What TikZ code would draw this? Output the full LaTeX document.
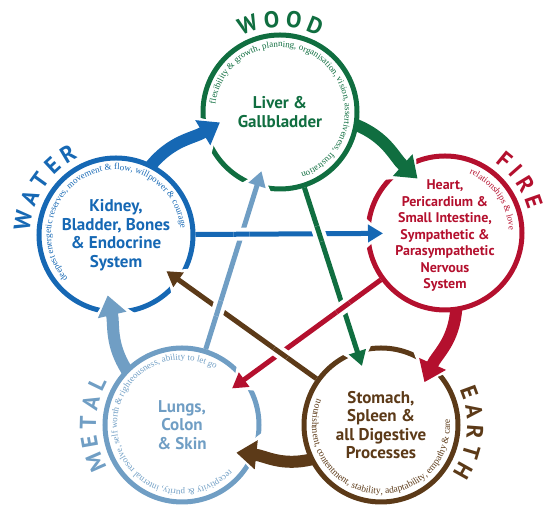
\documentclass[tikz,border=0pt]{standalone}
\usepackage{fontspec}
\setmainfont{Liberation Serif}
\newfontfamily\organfont{PT Sans}
\newfontfamily\arcfont{Liberation Serif}
\usetikzlibrary{arrows.meta,calc,decorations.text}
\definecolor{woodc}{RGB}{16,110,64}
\definecolor{firec}{RGB}{180,16,46}
\definecolor{earthc}{RGB}{92,58,24}
\definecolor{metalc}{RGB}{112,158,196}
\definecolor{waterc}{RGB}{22,104,180}
\tikzset{
  ring/.style={circle, draw=#1, line width=5pt, minimum size=154pt, inner sep=0pt},
  organ/.style={text=#1, font=\organfont\bfseries\fontsize{17}{18.5}\selectfont, align=center},
  gen/.style={draw=#1, line width=12pt, shorten <=-3pt, -{Triangle[length=20pt,width=28pt]}},
  genhalo/.style={draw=white, line width=20pt, -{Triangle[length=30pt,width=56pt]}},
  ctl/.style={draw=#1, line width=5pt, -{Triangle[length=15pt,width=17pt]}},
  ctlhalo/.style={draw=white, line width=12pt, -{Triangle[length=22pt,width=38pt]}},
  over/.style={draw=white, line width=13pt},
  arctext/.style n args={3}{decorate, decoration={text along path, text align=center, text color=#1,
    text={|\arcfont\fontsize{#2}{10}\selectfont|#3}}},
  elem/.style 2 args={decorate, decoration={text along path, text align=center, text color=#1,
    text={|\organfont\bfseries\fontsize{23}{24}\selectfont|#2}}}
}
\begin{document}
\begin{tikzpicture}[x=1pt,y=1pt]
  \useasboundingbox (0,0) rectangle (550,518);
  \node[ring=woodc] (wood) at (280,406) {};
  \node[ring=firec] (fire) at (445,285) {};
  \node[ring=earthc] (earth) at (381,93) {};
  \node[ring=metalc] (metal) at (182,93) {};
  \node[ring=waterc] (water) at (116,283) {};

  \coordinate (woodgen) at ($(wood)!61pt!-27:(water)$);
  \coordinate (firegen) at ($(fire)!61pt!-27:(wood)$);
  \coordinate (earthgen) at ($(earth)!61pt!-27:(fire)$);
  \coordinate (metalgen) at ($(metal)!61pt!-27:(earth)$);
  \coordinate (watergen) at ($(water)!61pt!-27:(metal)$);
  \draw[genhalo] ($(woodgen)+(211:30)$) -- (woodgen);
  \draw[genhalo] ($(firegen)+(138:30)$) -- (firegen);
  \draw[genhalo] ($(earthgen)+(66:30)$) -- (earthgen);
  \draw[genhalo] ($(metalgen)+(354:30)$) -- (metalgen);
  \draw[genhalo] ($(watergen)+(283:30)$) -- (watergen);
  \draw[gen=waterc] (water.63) to[out=51,in=211] (woodgen);
  \draw[gen=woodc] (wood.-10) to[out=-22,in=138] (firegen);
  \draw[gen=firec] (fire.-82) to[out=-94,in=66] (earthgen);
  \draw[gen=earthc] (earth.206) to[out=194,in=354] (metalgen);
  \draw[gen=metalc] (metal.135) to[out=123,in=283] (watergen);

  \coordinate (firectl) at ($(fire)!62pt!(water)$);
  \coordinate (earthctl) at ($(earth)!62pt!(wood)$);
  \coordinate (metalctl) at ($(metal)!62pt!(fire)$);
  \coordinate (waterctl) at ($(water)!62pt!(earth)$);
  \coordinate (woodctl) at ($(wood)!62pt!(metal)$);
  \draw[ctlhalo] ($(firectl)!28pt!(water)$) -- (firectl);
  \draw[ctlhalo] ($(earthctl)!28pt!(wood)$) -- (earthctl);
  \draw[ctlhalo] ($(metalctl)!28pt!(fire)$) -- (metalctl);
  \draw[ctlhalo] ($(waterctl)!28pt!(earth)$) -- (waterctl);
  \draw[ctlhalo] ($(woodctl)!28pt!(metal)$) -- (woodctl);
  \draw[ctl=waterc] (water) -- (firectl);
  \draw[ctl=woodc] (wood) -- (earthctl);
  \draw[ctl=firec] (fire) -- (metalctl);
  \draw[ctl=earthc] (earth) -- (waterctl);
  \draw[ctl=metalc] (metal) -- (woodctl);

  \coordinate (x1) at (intersection of water.center--fire.center and wood.center--earth.center);
  \coordinate (x2) at (intersection of water.center--fire.center and metal.center--wood.center);
  \coordinate (x3) at (intersection of metal.center--wood.center and earth.center--water.center);
  \coordinate (x4) at (intersection of earth.center--water.center and fire.center--metal.center);
  \coordinate (x5) at (intersection of fire.center--metal.center and wood.center--earth.center);
  \draw[over] ($(x1)!8pt!(wood)$) -- ($(x1)!8pt!(earth)$);
  \draw[woodc, line width=5pt] ($(x1)!8pt!(wood)$) -- ($(x1)!8pt!(earth)$);
  \draw[over] ($(x2)!8pt!(water)$) -- ($(x2)!8pt!(fire)$);
  \draw[waterc, line width=5pt] ($(x2)!8pt!(water)$) -- ($(x2)!8pt!(fire)$);
  \draw[over] ($(x3)!8pt!(metal)$) -- ($(x3)!8pt!(wood)$);
  \draw[metalc, line width=5pt] ($(x3)!8pt!(metal)$) -- ($(x3)!8pt!(wood)$);
  \draw[over] ($(x4)!8pt!(earth)$) -- ($(x4)!8pt!(water)$);
  \draw[earthc, line width=5pt] ($(x4)!8pt!(earth)$) -- ($(x4)!8pt!(water)$);
  \draw[over] ($(x5)!8pt!(fire)$) -- ($(x5)!8pt!(metal)$);
  \draw[firec, line width=5pt] ($(x5)!8pt!(fire)$) -- ($(x5)!8pt!(metal)$);

  \node[organ=woodc] (woodtxt) at (wood) {Liver \&\\Gallbladder};
  \node[organ=firec, font=\organfont\bfseries\fontsize{14}{16.5}\selectfont] (firetxt) at ($(fire)+(0,-3)$)
    {Heart,\\Pericardium \&\\Small Intestine,\\Sympathetic \&\\Parasympathetic\\Nervous\\System};
  \node[organ=earthc] (earthtxt) at (earth) {Stomach,\\Spleen \&\\all Digestive\\Processes};
  \node[organ=metalc] (metaltxt) at (metal) {Lungs,\\Colon\\\& Skin};
  \node[organ=waterc] (watertxt) at (water) {Kidney,\\Bladder, Bones\\\& Endocrine\\System};

  \path[arctext={woodc}{9}{flexibility {\&} growth, planning, organisation, vision, assertiveness, frustration}]
    ($(wood)+(196:65)$) arc[start angle=196, end angle=-94, radius=65];
  \path[arctext={firec}{9}{relationships {\&} love}]
    ($(fire)+(90:64)$) arc[start angle=90, end angle=-20, radius=64];
  \path[arctext={waterc}{9}{deepest energetic reserves, movement {\&} flow, willpower {\&} courage}]
    ($(water)+(250:65)$) arc[start angle=250, end angle=-22, radius=65];
  \path[arctext={metalc}{9}{receptivity {\&} purity, internal resolve, self worth {\&} righteousness, ability to let go}]
    ($(metal)+(-16:65)$) arc[start angle=-16, end angle=-328, radius=65];
  \path[arctext={earthc}{9.5}{nourishment, contentment, stability, adaptability, empathy {\&} care}]
    ($(earth)+(123:69)$) arc[start angle=123, end angle=400, radius=69];

  \path[elem={woodc}{W{\kern5pt}O{\kern5pt}O{\kern5pt}D}]
    ($(wood)+(130:85)$) arc[start angle=130, end angle=50, radius=85];
  \path[elem={firec}{F{\kern5pt}I{\kern5pt}R{\kern5pt}E}]
    ($(fire)+(65:86)$) arc[start angle=65, end angle=5, radius=86];
  \path[elem={earthc}{E{\kern5pt}A{\kern5pt}R{\kern5pt}T{\kern5pt}H}]
    ($(earth)+(35:86)$) arc[start angle=35, end angle=-45, radius=86];
  \path[elem={metalc}{M{\kern5pt}E{\kern5pt}T{\kern5pt}A{\kern5pt}L}]
    ($(metal)+(220:86)$) arc[start angle=220, end angle=140, radius=86];
  \path[elem={waterc}{W{\kern5pt}A{\kern5pt}T{\kern5pt}E{\kern5pt}R}]
    ($(water)+(190:86)$) arc[start angle=190, end angle=104, radius=86];
\end{tikzpicture}
\end{document}
